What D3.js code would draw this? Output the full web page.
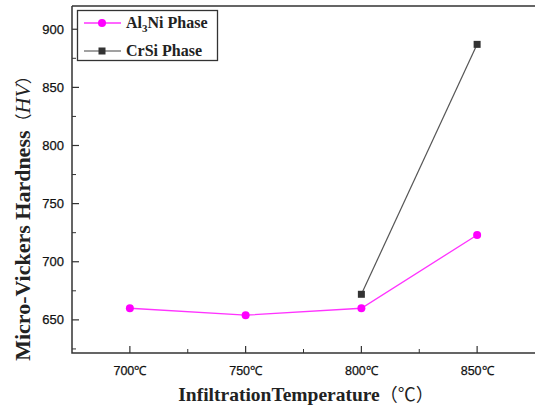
<!DOCTYPE html>
<html><head><meta charset="utf-8">
<script src="https://d3js.org/d3.v7.min.js"></script>
<style>body{margin:0;background:#fff}</style>
</head><body>
<script>
const temps = [700, 750, 800, 850];
const tickLabels = ["700℃", "750℃", "800℃", "850℃"];
const al3ni = [660, 654, 660, 723];
const crsiTemps = [800, 850];
const crsi = [672, 887];
const yTicks = [650, 700, 750, 800, 850, 900];

const W = 535, H = 412;
const svg = d3.select("body").append("svg").attr("width", W).attr("height", H);
const L = 72, R = 535, T = 6, B = 353;
const x = d3.scaleLinear().domain([675, 875]).range([L, R]);
const y = d3.scaleLinear().domain([621.5, 920]).range([B, T]);
const ax = "#333";
const serif = "Liberation Serif, Times New Roman, Noto Sans CJK SC";

// minor ticks
const yMinor = d3.range(625, 920, 25).filter(v => v % 50 !== 0);
svg.selectAll(".ym").data(yMinor).enter().append("line")
  .attr("x1", L).attr("x2", L + 4).attr("y1", d => y(d)).attr("y2", d => y(d))
  .attr("stroke", ax).attr("stroke-width", 1);
const xMinor = [725, 775, 825];
svg.selectAll(".xm").data(xMinor).enter().append("line")
  .attr("x1", d => x(d)).attr("x2", d => x(d)).attr("y1", B).attr("y2", B - 4)
  .attr("stroke", ax).attr("stroke-width", 1);

// major ticks
svg.selectAll(".yM").data(yTicks).enter().append("line")
  .attr("x1", L).attr("x2", L + 7).attr("y1", d => y(d)).attr("y2", d => y(d))
  .attr("stroke", ax).attr("stroke-width", 1.2);
svg.selectAll(".xM").data(temps).enter().append("line")
  .attr("x1", d => x(d)).attr("x2", d => x(d)).attr("y1", B).attr("y2", B - 7)
  .attr("stroke", ax).attr("stroke-width", 1.2);

// frame
svg.append("path").attr("d", `M${L},${T}H${R}M${L},${T}V${B}H${R}`)
  .attr("fill", "none").attr("stroke", ax).attr("stroke-width", 1.5);

// tick labels
svg.selectAll(".yl").data(yTicks).enter().append("text")
  .attr("x", L - 8).attr("y", d => y(d)).attr("dy", "0.35em")
  .attr("text-anchor", "end").attr("font-family", "Liberation Sans, Arial")
  .attr("font-size", 13).attr("fill", "#111").attr("stroke", "#111").attr("stroke-width", 0.25)
  .text(d => d);
svg.selectAll(".xl").data(temps).enter().append("text")
  .attr("x", d => x(d)).attr("y", B + 22)
  .attr("text-anchor", "middle").attr("font-family", "Liberation Sans, Arial")
  .attr("font-size", 12.5).attr("fill", "#111").attr("stroke", "#111").attr("stroke-width", 0.25)
  .text((d, i) => tickLabels[i]);

// axis titles
const xt = svg.append("text").attr("x", 306).attr("y", 401).attr("text-anchor", "middle")
  .attr("font-family", serif).attr("font-weight", "bold")
  .attr("font-size", 19.5).attr("fill", "#222");
xt.append("tspan").text("InfiltrationTemperature");
xt.append("tspan").attr("font-weight", "normal").attr("font-family", "Noto Sans CJK SC").attr("font-size", 18).text("（℃）");

const yt = svg.append("text").attr("transform", "translate(30,214) rotate(-90)")
  .attr("text-anchor", "middle")
  .attr("font-family", serif).attr("font-weight", "bold")
  .attr("font-size", 22).attr("fill", "#222");
yt.append("tspan").text("Micro-Vickers Hardness");
yt.append("tspan").attr("font-weight", "normal").attr("font-family", "Noto Sans CJK SC").attr("font-size", 17).text("（");
yt.append("tspan").attr("font-style", "italic").attr("font-weight", "normal").text("HV");
yt.append("tspan").attr("font-weight", "normal").attr("font-family", "Noto Sans CJK SC").attr("font-size", 17).text("）");

// series
const line = d3.line().x(d => x(d[0])).y(d => y(d[1]));
const alData = temps.map((t, i) => [t, al3ni[i]]);
const crData = crsiTemps.map((t, i) => [t, crsi[i]]);
svg.append("path").datum(crData).attr("d", line).attr("fill", "none")
  .attr("stroke", "#555").attr("stroke-width", 1.2);
svg.append("path").datum(alData).attr("d", line).attr("fill", "none")
  .attr("stroke", "#ff33ff").attr("stroke-width", 1.3);
svg.selectAll(".cr").data(crData).enter().append("rect")
  .attr("x", d => x(d[0]) - 3.5).attr("y", d => y(d[1]) - 3.5)
  .attr("width", 7).attr("height", 7).attr("fill", "#333");
svg.selectAll(".al").data(alData).enter().append("circle")
  .attr("cx", d => x(d[0])).attr("cy", d => y(d[1])).attr("r", 4)
  .attr("fill", "#ff00ff");

// legend
const lg = svg.append("g");
lg.append("rect").attr("x", 77.5).attr("y", 10.5).attr("width", 140).attr("height", 50)
  .attr("fill", "#fff").attr("stroke", ax).attr("stroke-width", 1.3);
lg.append("line").attr("x1", 84).attr("x2", 121).attr("y1", 23).attr("y2", 23)
  .attr("stroke", "#ff33ff").attr("stroke-width", 1.3);
lg.append("circle").attr("cx", 102).attr("cy", 23).attr("r", 4).attr("fill", "#ff00ff");
lg.append("line").attr("x1", 84).attr("x2", 121).attr("y1", 51).attr("y2", 51)
  .attr("stroke", "#444").attr("stroke-width", 1.2);
lg.append("rect").attr("x", 98.5).attr("y", 47.5).attr("width", 7).attr("height", 7).attr("fill", "#333");
const t1 = lg.append("text").attr("x", 126).attr("y", 28)
  .attr("font-family", serif).attr("font-weight", "bold")
  .attr("font-size", 16).attr("fill", "#222");
t1.append("tspan").text("Al");
t1.append("tspan").attr("font-size", 11).attr("dy", 4).text("3");
t1.append("tspan").attr("dy", -4).text("Ni Phase");
lg.append("text").attr("x", 126).attr("y", 56)
  .attr("font-family", serif).attr("font-weight", "bold")
  .attr("font-size", 16).attr("fill", "#222").text("CrSi Phase");
</script>
</body></html>
